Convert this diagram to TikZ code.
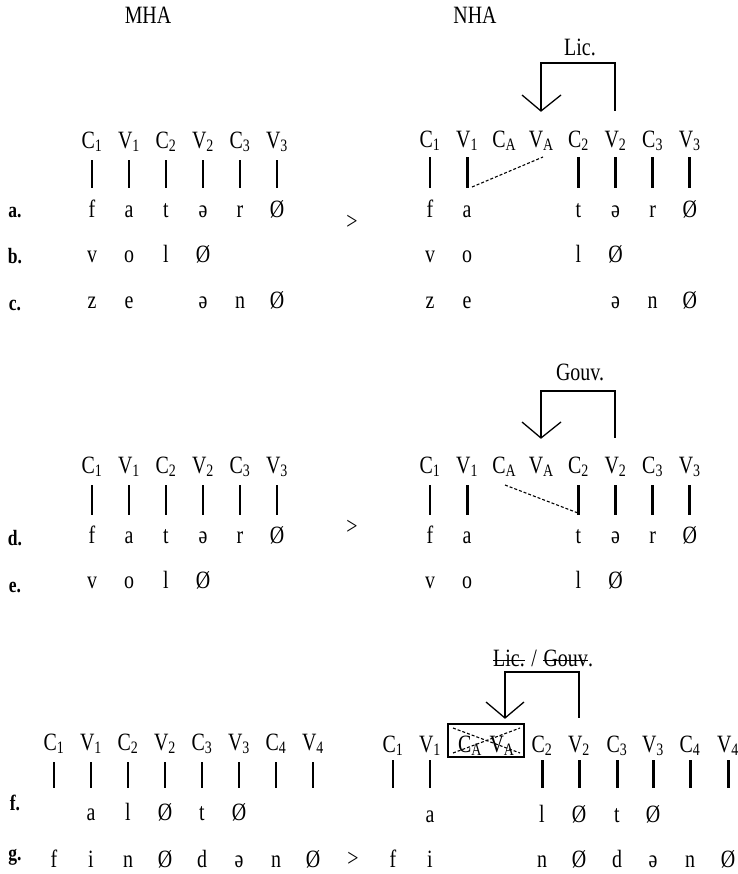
\documentclass[tikz,border=0pt]{standalone}
\usepackage{fontspec}
\setmainfont{Liberation Serif}[FakeStretch=0.8]
\newcommand{\cvl}[2]{#1\textsubscript{#2}}
\begin{document}
\begin{tikzpicture}[x=1bp,y=-1bp,
  txt/.style={font=\fontsize{25}{29}\selectfont, inner sep=0pt, anchor=base},
  rowlab/.style={font=\bfseries\fontsize{22}{26}\selectfont, inner sep=0pt, anchor=base},
  bar/.style={line width=3pt},
  brk/.style={line width=2.8pt, line join=miter},
  tipv/.style={line width=1.3pt},
  dsh/.style={line width=1.1pt, densely dashed},
  strike/.style={line width=1pt}]
\useasboundingbox (0,0) rectangle (738,874);

% headings
\node[txt] (mha) at (148,23) {MHA};
\node[txt] (nha) at (475,23) {NHA};

% ---------------- top left ----------------
\foreach \l [count=\i from 0] in {\cvl{C}{1},\cvl{V}{1},\cvl{C}{2},\cvl{V}{2},\cvl{C}{3},\cvl{V}{3}}{
  \node[txt] (tl\i) at ({92+37*\i},148) {\l};
  \draw[bar] ({92+37*\i},160) -- ({92+37*\i},188);
}
\foreach \t/\i in {f/0,a/1,t/2,ə/3,r/4,Ø/5} \node[txt] (tla\i) at ({92+37*\i},217) {\t};
\foreach \t/\i in {v/0,o/1,l/2,Ø/3} \node[txt] (tlb\i) at ({92+37*\i},262) {\t};
\foreach \t/\i in {z/0,e/1,ə/3,n/4,Ø/5} \node[txt] (tlc\i) at ({92+37*\i},308) {\t};
\node[rowlab] (ra) at (15,217) {a.};
\node[rowlab] (rb) at (15,263) {b.};
\node[rowlab] (rc) at (15,310) {c.};
\node[txt] (gt1) at (352,229) {>};

% ---------------- top right ----------------
\foreach \l [count=\i from 0] in {\cvl{C}{1},\cvl{V}{1},\cvl{C}{A},\cvl{V}{A},\cvl{C}{2},\cvl{V}{2},\cvl{C}{3},\cvl{V}{3}}{
  \node[txt] (tr\i) at ({430+37.1*\i},147) {\l};
}
\foreach \i in {0,1,4,5,6,7} \draw[bar] ({430+37.1*\i},157) -- ({430+37.1*\i},188);
\foreach \t/\i in {f/0,a/1,t/4,ə/5,r/6,Ø/7} \node[txt] (tra\i) at ({430+37.1*\i},217) {\t};
\foreach \t/\i in {v/0,o/1,l/4,Ø/5} \node[txt] (trb\i) at ({430+37.1*\i},262) {\t};
\foreach \t/\i in {z/0,e/1,ə/5,n/6,Ø/7} \node[txt] (trc\i) at ({430+37.1*\i},308) {\t};
\node[txt] (lic) at (580,55) {Lic.};
\coordinate (tra) at (541,111);
\coordinate (trb) at (615,111);
\draw[brk] (tra) -- (541,63) -- (615,63) -- (trb);
\draw[tipv] (522,95) -- (tra) -- (561,95);
\coordinate (d1s) at (472,187);
\coordinate (d1e) at (543,157);
\draw[dsh] (d1s) -- (d1e);

% ---------------- middle left ----------------
\foreach \l [count=\i from 0] in {\cvl{C}{1},\cvl{V}{1},\cvl{C}{2},\cvl{V}{2},\cvl{C}{3},\cvl{V}{3}}{
  \node[txt] (ml\i) at ({92+37*\i},473) {\l};
  \draw[bar] ({92+37*\i},485) -- ({92+37*\i},515);
}
\foreach \t/\i in {f/0,a/1,t/2,ə/3,r/4,Ø/5} \node[txt] (mld\i) at ({92+37*\i},543) {\t};
\foreach \t/\i in {v/0,o/1,l/2,Ø/3} \node[txt] (mle\i) at ({92+37*\i},588) {\t};
\node[rowlab] (rd) at (15,545) {d.};
\node[rowlab] (re) at (15,592) {e.};
\node[txt] (gt2) at (352,534) {>};

% ---------------- middle right ----------------
\foreach \l [count=\i from 0] in {\cvl{C}{1},\cvl{V}{1},\cvl{C}{A},\cvl{V}{A},\cvl{C}{2},\cvl{V}{2},\cvl{C}{3},\cvl{V}{3}}{
  \node[txt] (mr\i) at ({430+37.1*\i},473) {\l};
}
\foreach \i in {0,1,4,5,6,7} \draw[bar] ({430+37.1*\i},485) -- ({430+37.1*\i},515);
\foreach \t/\i in {f/0,a/1,t/4,ə/5,r/6,Ø/7} \node[txt] (mrd\i) at ({430+37.1*\i},543) {\t};
\foreach \t/\i in {v/0,o/1,l/4,Ø/5} \node[txt] (mre\i) at ({430+37.1*\i},588) {\t};
\node[txt] (gouv) at (580,380) {Gouv.};
\coordinate (mra) at (541,438);
\coordinate (mrb) at (615,438);
\draw[brk] (mra) -- (541,391) -- (615,391) -- (mrb);
\draw[tipv] (522,422) -- (mra) -- (561,422);
\coordinate (d2s) at (505,485);
\coordinate (d2e) at (578,513);
\draw[dsh] (d2s) -- (d2e);

% ---------------- bottom left ----------------
\foreach \l [count=\i from 0] in {\cvl{C}{1},\cvl{V}{1},\cvl{C}{2},\cvl{V}{2},\cvl{C}{3},\cvl{V}{3},\cvl{C}{4},\cvl{V}{4}}{
  \node[txt] (bl\i) at ({54+37*\i},750) {\l};
  \draw[bar] ({54+37*\i},762) -- ({54+37*\i},788);
}
\foreach \t/\i in {a/1,l/2,Ø/3,t/4,Ø/5} \node[txt] (blf\i) at ({54+37*\i},820) {\t};
\foreach \t/\i in {f/0,i/1,n/2,Ø/3,d/4,ə/5,n/6,Ø/7} \node[txt] (blg\i) at ({54+37*\i},867) {\t};
\node[rowlab] (rf) at (15,810) {f.};
\node[rowlab] (rg) at (15,860) {g.};
\node[txt] (gt3) at (353,866) {>};

% ---------------- bottom right ----------------
\foreach \l/\x/\n in {\cvl{C}{1}/393/0,\cvl{V}{1}/430/1,\cvl{C}{2}/542/4,\cvl{V}{2}/579/5,\cvl{C}{3}/617/6,\cvl{V}{3}/653/7,\cvl{C}{4}/690/8,\cvl{V}{4}/728/9}{
  \node[txt] (br\n) at (\x,752) {\l};
  \draw[bar] (\x,760) -- (\x,788);
}
\node[txt] (br2) at (470,752) {\cvl{C}{A}};
\node[txt] (br3) at (502,752) {\cvl{V}{A}};
\node[draw, line width=2.8pt, minimum width=76bp, minimum height=33bp, inner sep=0pt] (box) at (486,740.5) {};
\draw[dsh] (453,728) -- (520,753);
\draw[dsh] (453,753) -- (520,728);
\foreach \t/\x in {a/430,l/542,Ø/579,t/617,Ø/653} \node[txt] at (\x,822) {\t};
\foreach \t/\x in {f/393,i/430,n/542,Ø/579,d/617,ə/653,n/690,Ø/728} \node[txt] at (\x,867) {\t};
\node[txt, anchor=base west] (lg1) at (493,666) {Lic.};
\node[txt, anchor=base west] (lg2) at (lg1.base east) {\kern0.25em/\kern0.25em};
\node[txt, anchor=base west] (lg3) at (lg2.base east) {Gouv};
\node[txt, anchor=base west] (lg4) at (lg3.base east) {.};
\draw[strike] ([yshift=5.5bp]lg1.base west) -- ([yshift=5.5bp]lg1.base east);
\draw[strike] ([yshift=5.5bp]lg3.base west) -- ([yshift=5.5bp]lg3.base east);
\coordinate (bra) at (505,718);
\coordinate (brb) at (579,718);
\draw[brk] (bra) -- (505,672) -- (579,672) -- (brb);
\draw[tipv] (486,702) -- (bra) -- (524,702);
\end{tikzpicture}
\end{document}
